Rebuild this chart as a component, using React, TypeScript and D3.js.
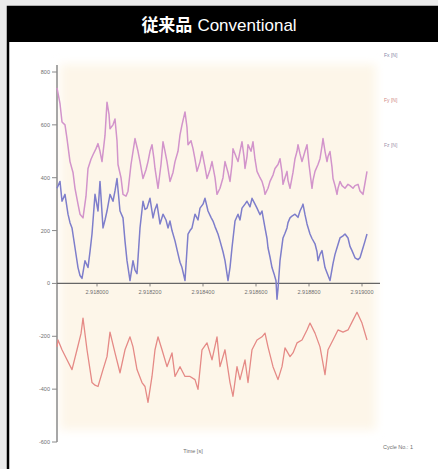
import React from 'react';
import * as d3 from 'd3';

// readings: [time offset, force N]
const fzSeries: [number, number][] = [
  [0, 740], [3, 680], [5, 611], [8, 600], [10, 548], [13, 461], [16, 420], [18, 360], [21, 300], [23, 262], [26, 248],
  [29, 330], [31, 435], [34, 470], [36, 487], [39, 510], [41, 529], [43, 500], [45, 461], [48, 560], [50, 686],
  [52, 640], [53, 585], [56, 600], [58, 622], [60, 540], [61, 450], [64, 400], [66, 337], [69, 330], [71, 349],
  [74, 450], [78, 548], [81, 500], [83, 461], [86, 397], [89, 430], [91, 461], [93, 500], [95, 525], [97, 470],
  [98, 435], [101, 360], [104, 450], [106, 536], [108, 500], [110, 461], [113, 386], [116, 420], [118, 461],
  [121, 500], [123, 562], [125, 600], [128, 649], [130, 590], [131, 525], [134, 540], [136, 510], [138, 470],
  [140, 424], [143, 460], [145, 499], [148, 440], [150, 397], [153, 430], [155, 461], [158, 400], [160, 337],
  [163, 360], [166, 400], [168, 461], [171, 420], [173, 386], [175, 450], [176, 510], [179, 480], [181, 461],
  [183, 500], [185, 536], [187, 480], [188, 435], [190, 480], [191, 525], [194, 500], [196, 536], [198, 470],
  [200, 424], [203, 400], [205, 386], [207, 360], [208, 337], [211, 360], [213, 386], [216, 410], [218, 435],
  [221, 450], [223, 472], [225, 420], [226, 375], [228, 400], [230, 424], [231, 390], [233, 360], [236, 420],
  [238, 472], [240, 500], [241, 525], [243, 490], [245, 461], [248, 500], [250, 525], [252, 450], [255, 360],
  [256, 390], [258, 424], [261, 450], [263, 472], [265, 520], [266, 548], [268, 500], [270, 461], [271, 480],
  [273, 499], [275, 440], [276, 397], [278, 370], [280, 337], [281, 360], [283, 386], [285, 370], [288, 360],
  [291, 375], [293, 370], [296, 360], [298, 370], [301, 375], [303, 350], [306, 337], [308, 380], [310, 424]
];

const fxSeries: [number, number][] = [
  [0, 360], [3, 386], [5, 311], [8, 337], [11, 262], [13, 230], [15, 210], [18, 135], [21, 60], [23, 30],
  [25, 19], [28, 86], [31, 60], [33, 120], [35, 187], [38, 337], [41, 274], [43, 386], [46, 210], [48, 240],
  [50, 274], [53, 337], [56, 311], [58, 350], [60, 397], [63, 274], [66, 248], [68, 160], [70, 86], [73, 11],
  [76, 86], [78, 50], [80, 37], [83, 210], [86, 311], [88, 280], [90, 285], [93, 322], [96, 248], [98, 280],
  [100, 300], [103, 225], [106, 262], [109, 240], [111, 210], [113, 236], [115, 200], [118, 161], [121, 112],
  [123, 80], [125, 60], [128, 11], [131, 187], [133, 200], [135, 210], [138, 262], [141, 240], [143, 285],
  [146, 300], [148, 322], [150, 290], [151, 274], [154, 250], [156, 236], [158, 215], [161, 187],
  [163, 161], [166, 120], [168, 86], [171, 11], [173, 60], [175, 135], [178, 236], [181, 262],
  [183, 240], [185, 285], [188, 300], [190, 311], [193, 290], [195, 322], [198, 300], [200, 285], [203, 260],
  [205, 274], [208, 210], [210, 170], [211, 135], [213, 100], [215, 60], [217, 37], [219, 10], [220, -60],
  [221, -20], [223, 86], [226, 172], [228, 190], [230, 210], [231, 230], [233, 248], [235, 255], [238, 262],
  [241, 250], [243, 274], [245, 290], [246, 300], [248, 260], [250, 225], [253, 187], [255, 170], [258, 150],
  [260, 120], [261, 86], [263, 110], [265, 124], [268, 60], [270, 40], [273, 11], [276, 75], [278, 110],
  [280, 135], [283, 172], [286, 180], [288, 187], [291, 172], [293, 140], [295, 124], [298, 97], [301, 90],
  [303, 97], [306, 135], [308, 160], [310, 187]
];

const fySeries: [number, number][] = [
  [0, -240], [1, -214], [5, -251], [10, -289], [15, -326], [20, -251], [24, -190], [26, -131], [30, -251],
  [35, -375], [38, -385], [41, -390], [46, -326], [50, -277], [53, -184], [58, -263], [63, -338], [68, -251],
  [73, -202], [76, -240], [80, -326], [85, -375], [88, -390], [91, -450], [95, -352], [98, -251], [101, -202],
  [105, -251], [110, -315], [115, -263], [118, -352], [123, -315], [128, -352], [133, -352], [138, -364],
  [141, -401], [145, -251], [150, -225], [155, -289], [160, -202], [163, -315], [168, -251], [173, -375],
  [176, -427], [180, -315], [183, -364], [188, -289], [191, -375], [195, -251], [200, -214], [205, -202],
  [208, -188], [211, -240], [216, -315], [221, -364], [225, -315], [228, -244], [233, -277], [236, -263],
  [240, -225], [245, -214], [250, -176], [253, -150], [258, -188], [263, -240], [268, -345], [271, -251],
  [276, -214], [281, -176], [286, -184], [291, -176], [296, -139], [300, -109], [305, -150], [310, -214]
];

const yTicks = [800, 600, 400, 200, 0, -200, -400, -600];
const xTicks = [40, 93, 146, 199, 252, 305];
const xTickLabels = ['2.918000', '2.918200', '2.918400', '2.918600', '2.918800', '2.919000'];
const legendLabels = ['Fx [N]', 'Fy [N]', 'Fz [N]'];
const legendColors = ['#8686a8', '#cf8884', '#a090aa'];

const W = 438;
const H = 469;

const App = () => {
  const x = d3.scaleLinear().domain([0, 323]).range([57, 380]);
  const y = d3.scaleLinear().domain([-600, 800]).range([442, 72]);

  const line = d3.line<[number, number]>()
    .x(d => x(d[0]))
    .y(d => y(d[1]));

  return (
    <svg width={W} height={H} style={{ position: 'absolute', left: 0, top: 0 }}
      fontFamily="'Liberation Sans', Arial, sans-serif">
      <defs>
        <filter id="soft" x="-10%" y="-10%" width="120%" height="120%">
          <feGaussianBlur stdDeviation="5" />
        </filter>
        <filter id="blur" x="-5%" y="-5%" width="110%" height="110%">
          <feGaussianBlur stdDeviation="0.35" />
        </filter>
      </defs>
      <rect x={0} y={0} width={W} height={H} fill="#ebebeb" />
      {/* frame */}
      <rect x={8} y={7} width={W} height={H} fill="#fff" stroke="#000" strokeWidth={2.5} />
      <rect x={7} y={7} width={W} height={35} fill="#000" />
      <text x={219} y={31} fill="#fff" fontSize={17} textAnchor="middle">
        <tspan fontFamily="'Noto Sans CJK JP', sans-serif" fontWeight="bold">従来品</tspan>
        <tspan dx={5}>Conventional</tspan>
      </text>

      {/* plot background */}
      <rect x={60} y={64} width={316} height={366} fill="#fdf6e9" filter="url(#soft)" />

      {/* y axis */}
      <line x1={57} x2={57} y1={y(800) - 7} y2={y(-600)} stroke="#8a8a8a" strokeWidth={1.5} />
      {yTicks.map(t => (
        <g key={t}>
          <line x1={52} x2={57} y1={y(t)} y2={y(t)} stroke="#8a8a8a" strokeWidth={1} />
          <text x={50} y={y(t) + 2} fontSize={5.5} fill="#6f6f6f" textAnchor="end">{t}</text>
        </g>
      ))}

      {/* x axis at zero */}
      <line x1={57} x2={380} y1={y(0)} y2={y(0)} stroke="#666" strokeWidth={1.2} />
      {xTicks.map((t, i) => (
        <g key={t}>
          <line x1={x(t)} x2={x(t)} y1={y(0)} y2={y(0) + 3} stroke="#666" strokeWidth={0.8} />
          <text x={x(t)} y={y(0) + 11} fontSize={5.5} fill="#6f6f6f" textAnchor="middle">{xTickLabels[i]}</text>
        </g>
      ))}

      {/* series */}
      <g filter="url(#blur)">
        <path d={line(fzSeries) || ''} fill="none" stroke="#d294cb" strokeWidth={1.5} strokeLinejoin="round" />
        <path d={line(fxSeries) || ''} fill="none" stroke="#7e7ecb" strokeWidth={1.5} strokeLinejoin="round" />
        <path d={line(fySeries) || ''} fill="none" stroke="#e58a86" strokeWidth={1.3} strokeLinejoin="round" />
      </g>

      {/* legend */}
      {legendLabels.map((l, i) => (
        <text key={l} x={384} y={57 + i * 45} fontSize={5} fill={legendColors[i]}>{l}</text>
      ))}

      <text x={193} y={453} fontSize={5.5} fill="#6f6f6f" textAnchor="middle">Time [s]</text>
      <text x={383} y={449} fontSize={5.5} fill="#6f6f6f">Cycle No.: 1</text>
    </svg>
  );
};

export default App;
